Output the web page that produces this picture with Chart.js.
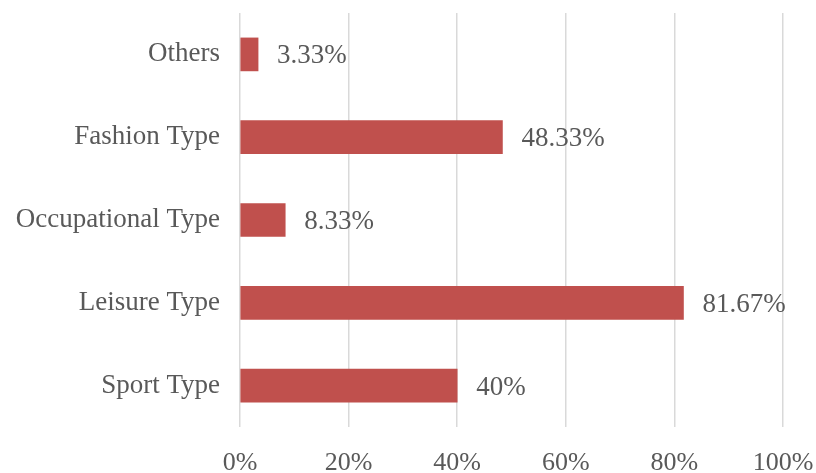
<!DOCTYPE html>
<html>
<head>
<meta charset="utf-8">
<script src="https://cdn.jsdelivr.net/npm/chart.js@4"></script>
<style>
  html, body { margin: 0; padding: 0; background: #fff; }
  #wrap { width: 816px; height: 473px; }
</style>
</head>
<body>
<div id="wrap"><canvas id="myChart"></canvas></div>
<script>
let categories = ['Others', 'Fashion Type', 'Occupational Type', 'Leisure Type', 'Sport Type'];
let shares = [3.33, 48.33, 8.33, 81.67, 40];
let shareLabels = ['3.33%', '48.33%', '8.33%', '81.67%', '40%'];

// writes the value text just right of each bar
const valueLabels = {
    id: 'valueLabels',
    afterDatasetsDraw(chart) {
        const ctx = chart.ctx;
        const meta = chart.getDatasetMeta(0);
        ctx.save();
        ctx.font = '27px "Liberation Serif"';
        ctx.fillStyle = '#595959';
        ctx.textAlign = 'left';
        ctx.textBaseline = 'middle';
        meta.data.forEach((bar, j) => {
            ctx.fillText(shareLabels[j], bar.x + 19, bar.y + 2);
        });
        ctx.restore();
    }
};

const ctx = document.getElementById('myChart');

new Chart(ctx, {
    type: 'bar',
    data: {
        labels: categories,
        datasets: [{
            label: 'share',
            data: shares,
            backgroundColor: '#C0504D',
            barThickness: 33
        }]
    },
    options: {
        indexAxis: 'y',
        responsive: true,
        maintainAspectRatio: false,
        animation: false,
        layout: { padding: { top: 13, right: 33, left: 0, bottom: 0 } },
        plugins: {
            legend: { display: false },
            tooltip: { enabled: false }
        },
        scales: {
            x: {
                min: 0,
                max: 100,
                ticks: {
                    stepSize: 20,
                    color: '#595959',
                    font: { family: 'Liberation Serif', size: 26 },
                    padding: 21,
                    callback: v => v + '%'
                },
                grid: { color: '#d9d9d9', lineWidth: 1.5, drawTicks: false },
                border: { display: false },
                afterFit: s => { s.height = 46; s.paddingLeft = 0; s.paddingRight = 0; }
            },
            y: {
                ticks: {
                    color: '#595959',
                    font: { family: 'Liberation Serif', size: 27 },
                    padding: 12
                },
                grid: { display: false },
                border: { display: false },
                afterFit: s => { s.width = 240; s.paddingTop = 0; s.paddingBottom = 0; }
            }
        }
    },
    plugins: [valueLabels]
});
</script>
</body>
</html>
